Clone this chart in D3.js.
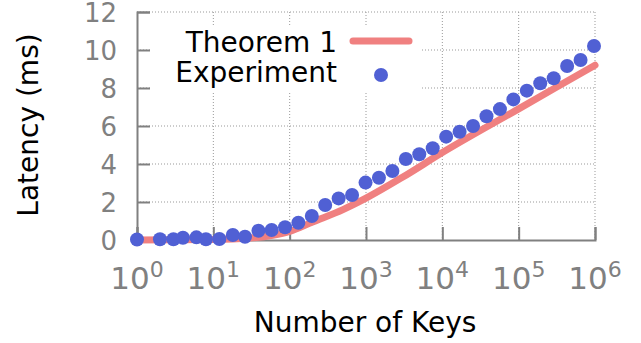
<!DOCTYPE html>
<html>
<head>
<meta charset="utf-8">
<script src="https://cdn.jsdelivr.net/npm/d3@7"></script>
<style>
  body { margin: 0; background: #fff; }
  svg { display: block; font-family: "DejaVu Sans", sans-serif; }
</style>
</head>
<body>
<svg id="chart" width="641" height="343"></svg>
<script>
// number of keys for each measured point
var keys = [1, 2, 3, 4, 6, 8, 12, 18, 26, 39, 58, 87, 130, 195, 292, 438, 657, 986,
  1478, 2217, 3326, 4988, 7482, 11223, 16834, 25251, 37877, 56815, 85223,
  127834, 191751, 287627, 431440, 647160, 970740];
// measured latency (ms)
var experiment = [0.03, 0.04, 0.04, 0.12, 0.14, 0.04, 0.05, 0.26, 0.17, 0.49, 0.53, 0.67,
  0.91, 1.26, 1.84, 2.19, 2.37, 3.02, 3.28, 3.63, 4.26, 4.51, 4.83, 5.44, 5.70,
  6.00, 6.51, 6.89, 7.40, 7.86, 8.25, 8.51, 9.16, 9.47, 10.21];
// theorem 1 curve, read at a few key counts
var theoryKeys = [1, 10, 30, 60, 100, 200, 500, 1000, 3000, 10000, 100000, 1000000];
var theorem = [0, 0.02, 0.1, 0.25, 0.45, 0.95, 1.6, 2.2, 3.3, 4.6, 6.9, 9.2];

var xTicks = [1, 10, 100, 1000, 10000, 100000, 1000000];
var yTicks = [0, 2, 4, 6, 8, 10, 12];

var svg = d3.select("#chart");
var plotL = 137, plotR = 595, plotT = 12, plotB = 240;

var x = d3.scaleLog().domain([1, 1e6]).range([plotL, plotR]);
var y = d3.scaleLinear().domain([0, 12]).range([plotB, plotT]);

var grey = "#808080";

// dotted grid
var grid = svg.append("g");
grid.selectAll(".gy").data(yTicks.slice(1)).enter().append("line")
  .attr("x1", plotL).attr("x2", plotR)
  .attr("y1", function(d) { return y(d); })
  .attr("y2", function(d) { return y(d); })
  .attr("stroke", "#999").attr("stroke-width", 1).attr("stroke-dasharray", "1,2");
grid.selectAll(".gx").data(xTicks.slice(1)).enter().append("line")
  .attr("y1", plotT).attr("y2", plotB)
  .attr("x1", function(d) { return x(d); })
  .attr("x2", function(d) { return x(d); })
  .attr("stroke", "#999").attr("stroke-width", 1).attr("stroke-dasharray", "1,2");

// legend box hides the grid behind it
svg.append("rect").attr("x", 152).attr("y", 25).attr("width", 270).attr("height", 66)
  .attr("fill", "#fff");

// axes: inward ticks, grey
var yAxis = d3.axisLeft(y).tickValues(yTicks).tickSize(-13).tickPadding(20);
var gy = svg.append("g").attr("transform", "translate(" + plotL + ",0)").call(yAxis);
gy.select(".domain").attr("stroke", grey).attr("stroke-width", 2);
gy.selectAll(".tick line").attr("stroke", grey).attr("stroke-width", 2);
gy.selectAll(".tick text").attr("fill", grey).style("font-size", "26px")
  .attr("font-family", "DejaVu Sans").attr("x", -20).attr("dy", "0.37em");

var xAxis = d3.axisBottom(x).tickValues(xTicks).tickSize(-13).tickFormat("");
var gx = svg.append("g").attr("transform", "translate(0," + plotB + ")").call(xAxis);
gx.select(".domain").attr("stroke", grey).attr("stroke-width", 2);
gx.selectAll(".tick line").attr("stroke", grey).attr("stroke-width", 2);

// x tick labels 10^n
var xl = svg.append("g").selectAll("text").data(xTicks).enter().append("text")
  .attr("x", function(d) { return x(d); })
  .attr("y", 289)
  .attr("text-anchor", "middle")
  .attr("fill", grey)
  .style("font-size", "31px");
xl.append("tspan").text("10");
xl.append("tspan").attr("dy", -12).style("font-size", "22px")
  .text(function(d) { return Math.round(Math.log10(d)); });

// axis titles
svg.append("text").attr("x", 365).attr("y", 332).attr("text-anchor", "middle")
  .style("font-size", "28px").text("Number of Keys");
svg.append("text").attr("transform", "translate(38,125) rotate(-90)")
  .attr("text-anchor", "middle").style("font-size", "28px").text("Latency (ms)");

// theorem curve
var line = d3.line()
  .x(function(d, i) { return x(theoryKeys[i]); })
  .y(function(d) { return y(d); })
  .curve(d3.curveMonotoneX);
svg.append("path").datum(theorem).attr("d", line)
  .attr("fill", "none").attr("stroke", "#f08080").attr("stroke-width", 7)
  .attr("stroke-linecap", "round").attr("stroke-linejoin", "round");

// experiment dots
svg.append("g").selectAll("circle").data(experiment).enter().append("circle")
  .attr("cx", function(d, i) { return x(keys[i]); })
  .attr("cy", function(d) { return y(d); })
  .attr("r", 7)
  .attr("fill", "#5060d4");

// legend
var lg = svg.append("g");
lg.append("text").attr("x", 337).attr("y", 52).attr("text-anchor", "end")
  .style("font-size", "28px").text("Theorem 1");
lg.append("line").attr("x1", 353).attr("x2", 409).attr("y1", 41).attr("y2", 41)
  .attr("stroke", "#f08080").attr("stroke-width", 7).attr("stroke-linecap", "round");
lg.append("text").attr("x", 337).attr("y", 82).attr("text-anchor", "end")
  .style("font-size", "28px").text("Experiment");
lg.append("circle").attr("cx", 381).attr("cy", 75).attr("r", 7).attr("fill", "#5060d4");
</script>
</body>
</html>
